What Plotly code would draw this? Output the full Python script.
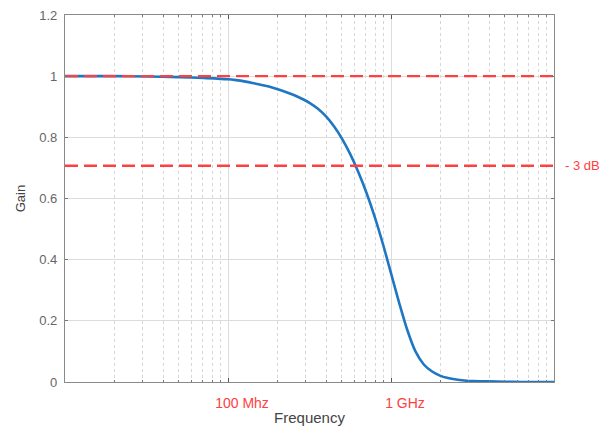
import plotly.graph_objects as go

# Low-pass response: frequency (Hz) and gain
freq_hz = [1.0e7, 2.0e7, 3.16e7, 5.0e7, 7.08e7,
           1.000e8, 1.122e8, 1.259e8, 1.413e8, 1.585e8, 1.778e8, 1.995e8, 2.239e8,
           2.512e8, 2.818e8, 3.162e8, 3.548e8, 3.981e8, 4.467e8, 5.012e8, 5.623e8,
           6.310e8, 7.079e8, 7.943e8, 8.913e8, 1.000e9, 1.122e9, 1.259e9, 1.413e9,
           1.585e9, 1.778e9, 1.995e9, 2.239e9, 2.512e9, 2.818e9, 3.162e9,
           3.981e9, 5.012e9, 6.310e9, 8.0e9, 1.0e10]
gain = [1.000, 1.000, 0.999, 0.997, 0.994,
        0.990, 0.987, 0.983, 0.978, 0.972, 0.966, 0.958, 0.949,
        0.939, 0.927, 0.913, 0.894, 0.869, 0.836, 0.795, 0.745,
        0.686, 0.618, 0.540, 0.452, 0.356, 0.259, 0.170, 0.100,
        0.058, 0.035, 0.021, 0.013, 0.008, 0.005, 0.003,
        0.002, 0.001, 0.0, 0.0, 0.0]

# Reference levels
unity_level = 1.0
cutoff_level = 0.707
ref_x = [1e7, 1e10]

x_tick_vals = [1e8, 1e9]
x_tick_text = ["100 Mhz", "1 GHz"]
y_tick_vals = [0, 0.2, 0.4, 0.6, 0.8, 1.0, 1.2]

minor_vals = [m * 10 ** e for e in (7, 8, 9) for m in range(2, 10)]

red = "#ff4040"
blue = "#1f77c4"
axis_col = "#8a8a8a"
font_family = "Liberation Sans, Arial, sans-serif"

fig = go.Figure()
fig.add_trace(go.Scatter(x=freq_hz, y=gain, mode="lines",
                         line=dict(color=blue, width=2.6, shape="spline", smoothing=0.8),
                         hoverinfo="skip"))
for lvl in (unity_level, cutoff_level):
    fig.add_trace(go.Scatter(x=ref_x, y=[lvl, lvl], mode="lines",
                             line=dict(color=red, width=2.4, dash="13px,6px"),
                             hoverinfo="skip"))

fig.add_annotation(x=1.018, xref="paper", y=cutoff_level, yref="y",
                   text="- 3 dB", showarrow=False, xanchor="left", yanchor="middle",
                   font=dict(color=red, size=13, family=font_family))

fig.update_layout(
    width=615, height=429,
    margin=dict(l=65, r=61, t=15, b=47),
    paper_bgcolor="white", plot_bgcolor="white",
    showlegend=False,
    font=dict(family=font_family, color="#555555", size=12),
)

fig.update_xaxes(
    type="log", range=[7, 10], automargin=False,
    tickmode="array", tickvals=x_tick_vals, ticktext=x_tick_text,
    tickfont=dict(color=red, size=14),
    ticklabelshift=14, ticklabelstandoff=8,
    showgrid=True, gridcolor="#dcdcdc", gridwidth=1,
    ticks="inside", ticklen=4, tickcolor="#555555",
    showline=True, linecolor=axis_col, linewidth=1.3, mirror="ticks",
    minor=dict(tickmode="array", tickvals=minor_vals, showgrid=True,
               gridcolor="#d6d6d6", griddash="dot", gridwidth=1,
               ticks="inside", ticklen=2, tickcolor="#777777"),
    title=dict(text="Frequency", font=dict(size=15, color="#444444"), standoff=2),
    zeroline=False,
)
fig.update_yaxes(
    range=[0, 1.2], automargin=False,
    tickmode="array", tickvals=y_tick_vals,
    tickfont=dict(color="#666666", size=13),
    ticklabelstandoff=4,
    showgrid=True, gridcolor="#dcdcdc", gridwidth=1,
    ticks="inside", ticklen=3, tickcolor="#777777",
    showline=True, linecolor=axis_col, linewidth=1.3, mirror="ticks",
    title=dict(text="Gain", font=dict(size=13, color="#444444"), standoff=10),
    zeroline=False,
)

fig.write_html("out.html")
